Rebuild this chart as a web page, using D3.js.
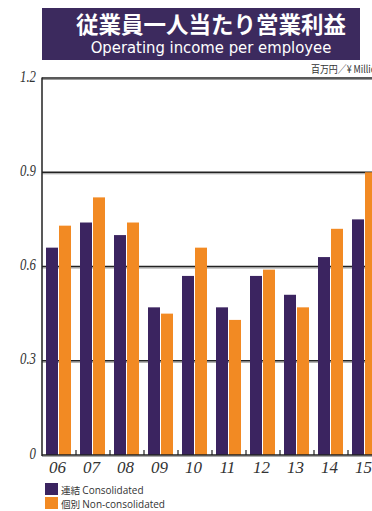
<!DOCTYPE html>
<html><head><meta charset="utf-8">
<script src="https://cdn.jsdelivr.net/npm/d3@7"></script>
<style>body{margin:0;background:#fff;overflow:hidden}</style>
</head><body>
<script>
const categories = ["06","07","08","09","10","11","12","13","14","15"];
const consolidated = [0.66,0.74,0.70,0.47,0.57,0.47,0.57,0.51,0.63,0.75];
const nonConsolidated = [0.73,0.82,0.74,0.45,0.66,0.43,0.59,0.47,0.72,0.90];
const yTicks = [0,0.3,0.6,0.9,1.2];
const yTickLabels = ["0","0.3","0.6","0.9","1.2"];
const seriesNames = ["連結 Consolidated","個別 Non-consolidated"];
const titleJa = "従業員一人当たり営業利益";
const titleEn = "Operating income per employee";
const unitLabel = "百万円／¥ Millions";

const W=372,H=511;
const purple="#3b2460", orange="#f28a23";
const svg=d3.select("body").append("svg").attr("width",W).attr("height",H);

// title box
svg.append("rect").attr("x",42).attr("y",8).attr("width",318).attr("height",52).attr("fill","#3c2a5e");
svg.append("text").attr("x",211).attr("y",33).attr("text-anchor","middle").attr("fill","#fff")
  .style("font-family","'Noto Sans CJK JP'").style("font-size","22.5px").style("font-weight","bold").text(titleJa);
svg.append("text").attr("x",211).attr("y",53).attr("text-anchor","middle").attr("fill","#fff")
  .style("font-family","'DejaVu Sans Condensed','DejaVu Sans'").style("font-size","16.5px").style("font-stretch","condensed").text(titleEn);

svg.append("text").attr("x",311).attr("y",73).attr("fill","#333")
  .style("font-family","'Noto Sans CJK JP'").style("font-size","10.5px")
  .attr("transform","translate(311,0) scale(0.85,1) translate(-311,0)").text(unitLabel);

const left=42, bw=34;
const x=d3.scaleBand().domain(categories).range([left,left+bw*categories.length]).paddingInner(0).paddingOuter(0);
const y=d3.scaleLinear().domain([0,1.2]).range([455,78]);

// gridlines
const gl=svg.append("g");
yTicks.forEach(t=>{
  if(t===0) return;
  gl.append("line").attr("x1",left).attr("x2",W).attr("y1",y(t)+1.5).attr("y2",y(t)+1.5).attr("stroke","#999").attr("stroke-width",1.2);
  gl.append("line").attr("x1",left).attr("x2",W).attr("y1",y(t)).attr("y2",y(t)).attr("stroke","#222").attr("stroke-width",1.3);
});

// bars
const barW=12;
const g=svg.append("g");
categories.forEach((c,i)=>{
  g.append("rect").attr("x",x(c)+4).attr("width",barW).attr("y",y(consolidated[i])).attr("height",y(0)-y(consolidated[i])).attr("fill",purple);
  g.append("rect").attr("x",x(c)+4+barW+1).attr("width",barW).attr("y",y(nonConsolidated[i])).attr("height",y(0)-y(nonConsolidated[i])).attr("fill",orange);
});

// y axis line
svg.append("line").attr("x1",left).attr("x2",left).attr("y1",y(1.2)-0.5).attr("y2",y(0)+1).attr("stroke","#222").attr("stroke-width",1.5);
// x axis
svg.append("line").attr("x1",left).attr("x2",W).attr("y1",y(0)+1.5).attr("y2",y(0)+1.5).attr("stroke","#aaa").attr("stroke-width",1.2);
svg.append("line").attr("x1",left).attr("x2",W).attr("y1",y(0)).attr("y2",y(0)).attr("stroke","#222").attr("stroke-width",1.4);
categories.forEach((c,i)=>{
  if(i===0) return;
  svg.append("line").attr("x1",x(c)).attr("x2",x(c)).attr("y1",y(0)).attr("y2",y(0)-5).attr("stroke","#222").attr("stroke-width",1.2);
});

// y tick labels
const yAxis=d3.axisLeft(y).tickValues(yTicks).tickFormat((d,i)=>yTickLabels[i]).tickSize(0).tickPadding(5);
const ya=svg.append("g").attr("transform",`translate(${left},0)`).call(yAxis);
ya.select(".domain").remove();
ya.selectAll("text").attr("fill","#333").style("font-family","'Liberation Serif'").style("font-style","italic").style("font-size","16px")
  .attr("transform","scale(0.8,1)").attr("x",-6/0.8).attr("dy","0.2em");

// x tick labels
const xAxis=d3.axisBottom(x).tickSize(0).tickPadding(6);
const xa=svg.append("g").attr("transform",`translate(0,${y(0)})`).call(xAxis);
xa.select(".domain").remove();
xa.selectAll("text").attr("fill","#333").style("font-family","'Liberation Serif'").style("font-style","italic").style("font-size","17px")
  .attr("dx","-1.5");

// legend
const leg=svg.append("g");
[purple,orange].forEach((col,i)=>{
  leg.append("rect").attr("x",45).attr("y",483+i*14).attr("width",13).attr("height",12).attr("fill",col);
  const t=leg.append("text").attr("x",61).attr("y",493.5+i*14).attr("fill","#333").style("font-family","'Open Sans','DejaVu Sans'").style("font-size","9.5px");
  const parts=seriesNames[i].split(" ");
  t.append("tspan").style("font-family","'Noto Sans CJK JP'").style("font-size","9.6px").attr("transform",null).text(parts[0]+" ");
  t.append("tspan").style("font-size","10px").text(parts.slice(1).join(" "));
});
</script>
</body></html>
